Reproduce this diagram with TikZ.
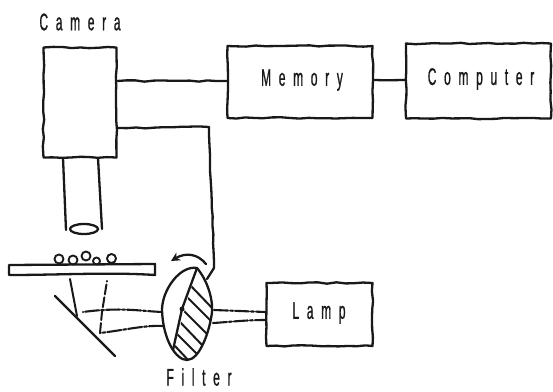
\documentclass[tikz,border=0pt]{standalone}
\usepackage{fontspec}
\setmainfont{Liberation Sans}[FakeStretch=0.5,LetterSpace=32,FakeBold=0.8]
\usetikzlibrary{decorations.pathmorphing,arrows.meta}
\pgfmathsetseed{7}
\tikzset{
  ink/.style={line width=2.3pt,draw=black!90,line cap=round,line join=round},
  rough/.style={ink,decorate,decoration={random steps,segment length=9pt,amplitude=0.7pt}},
  label/.style={font=\fontsize{24}{24}\selectfont,text=black!90,inner sep=0pt},
  beam/.style={ink,line width=2.1pt,dash pattern=on 14pt off 2pt on 3pt off 2pt},
}
\begin{document}
\begin{tikzpicture}[x=1pt,y=-1pt]
\useasboundingbox (0,0) rectangle (553,391);
% blocks
\node[rough,minimum width=73pt,minimum height=110pt,inner sep=0pt] (cam) at (80,102.5) {};
\node[rough,minimum width=145pt,minimum height=72pt,inner sep=0pt] (mem) at (300,82) {};
\node[label] at (302,80) {Memory};
\node[rough,minimum width=145pt,minimum height=75pt,inner sep=0pt] (comp) at (478.5,81) {};
\node[label] at (481,79) {Computer};
\node[rough,minimum width=106pt,minimum height=63pt,inner sep=0pt] (lamp) at (319.5,314.5) {};
\node[label] at (319,313) {Lamp};
\node[label] at (80,22) {Camera};
\node[label] at (199,377) {Filter};
% connectors
\coordinate (c1) at (cam.east |- 0,81);
\coordinate (c2) at (cam.east |- 0,128);
\coordinate (m1) at (mem.west |- 0,81);
\draw[rough] (c1) -- (m1);
\draw[rough] (mem.east |- 0,80) -- (comp.west |- 0,80);
\coordinate (w1) at (209,127);
\coordinate (w2) at (214,268);
\coordinate (w3) at (207,279);
\draw[rough] (c2) -- (w1);
\draw[rough] (w1) -- (w2);
\draw[ink] (w2) -- (w3);
% lens tube
\coordinate (lensc) at (84,229);
\draw[ink] (63,158) -- (66,230);
\draw[ink] (98,158) -- (102,229);
\draw[ink] (lensc) ellipse [x radius=14,y radius=5];
% slide
\draw[ink] (9,265) -- (155,264) -- (155,275) .. controls (110,272) and (60,275) .. (9,275) -- cycle;
\foreach \x/\y/\r in {59/259/4.5, 73/260/4.5, 86/256/4.5, 96.5/261/3.5, 111.5/258.5/4.5}
  \draw[ink,line width=1.9pt] (\x,\y) circle (\r);
% mirror
\coordinate (ma) at (55,296);
\coordinate (mb) at (115,356);
\draw[ink] (ma) -- (mb);
% reflected beams
\draw[ink,line width=2pt] (70,279) -- (77,316);
\draw[beam] (162,312) .. controls (140,311) and (120,307) .. (83,312);
\draw[beam] (163,326) .. controls (145,325) and (125,330) .. (100,333);
\draw[ink,line width=2pt,dash pattern=on 10pt off 3pt] (100,333) -- (102,312) -- (107,281);
% filter
\coordinate (ftop) at (197,268);
\coordinate (fbot) at (173,350);
\coordinate (fcen) at (182,309);
\begin{scope}
\clip (ftop) .. controls (207,280) and (213,298) .. (212,312) .. controls (210,330) and (200,360) .. (187,360) .. controls (180,360) and (176,356) .. (173,350) -- cycle;
\foreach \a/\b/\c/\d in {190/285/214/310, 187/297/212/322, 183/310/207/334, 180/322/203/346, 177/334/198/355, 175/346/190/362}
  \draw[ink,line width=2pt] (\a,\b) -- (\c,\d);
\end{scope}
\draw[ink] (ftop) .. controls (207,280) and (213,298) .. (212,312) .. controls (210,330) and (200,360) .. (187,360) .. controls (176,360) and (163,340) .. (162,310) .. controls (162,290) and (180,265) .. (197,268);
\draw[ink] (ftop) -- (fcen) -- (fbot);
\fill[black!90] (fcen) circle (2.5);
% rotation arrow
\draw[ink,-{Stealth[length=9pt,width=9pt]}] (206,264) .. controls (198,254) and (186,252) .. (171,261);
% lamp beams
\coordinate (la) at (lamp.west |- 0,312);
\coordinate (lb) at (lamp.west |- 0,320);
\draw[beam] (214,310) -- (la);
\draw[beam] (213,323) .. controls (230,322) and (245,320) .. (lb);
\end{tikzpicture}
\end{document}
